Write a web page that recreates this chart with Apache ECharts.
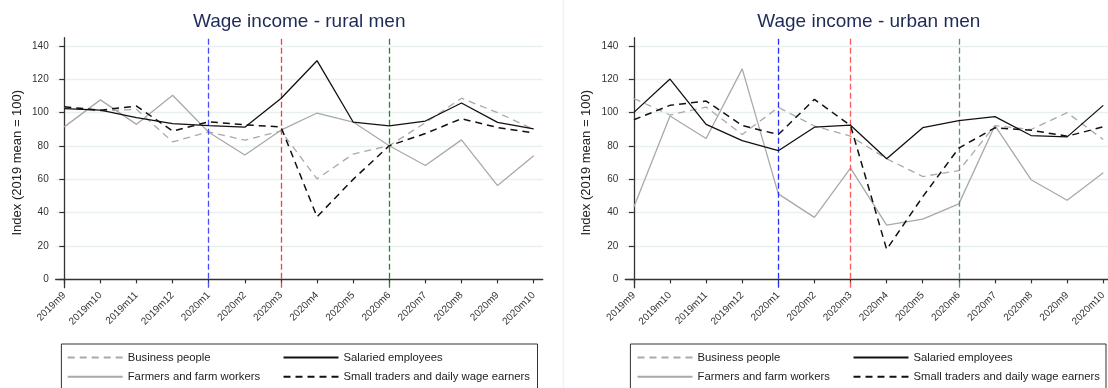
<!DOCTYPE html>
<html>
<head>
<meta charset="utf-8">
<title>Wage income index by occupation</title>
<script src="https://cdn.jsdelivr.net/npm/echarts@6/dist/echarts.min.js"></script>
<style>
  html, body { margin: 0; padding: 0; background: #ffffff; }
  #chart { width: 1108px; height: 388px; }
</style>
</head>
<body>
<div id="chart"></div>
<script>
// Survey months on the horizontal axis
const months = ['2019m9', '2019m10', '2019m11', '2019m12', '2020m1', '2020m2', '2020m3',
                '2020m4', '2020m5', '2020m6', '2020m7', '2020m8', '2020m9', '2020m10'];
const yTicks = [0, 20, 40, 60, 80, 100, 120, 140];
// Months marked with a vertical reference line
const eventMonths = ['2020m1', '2020m3', '2020m6'];

const groupNames = ['Business people', 'Farmers and farm workers', 'Salaried employees',
                    'Small traders and daily wage earners'];

// Rural men, index (2019 mean = 100)
const ruralBusiness = [103, 101, 102, 82.5, 88.5, 83.5, 89, 60.3, 75.2, 80.2, 94, 108.7, 100, 90];
const ruralFarmers  = [91.5, 107.7, 93, 110.5, 88.3, 74.6, 89.5, 99.8, 94.4, 80.2, 68.3, 83.7, 56.3, 74.2];
const ruralSalaried = [102.5, 101.5, 97, 93.5, 92.3, 91.3, 108.5, 131.2, 94.4, 92.1, 95, 105.8, 94.2, 90.3];
const ruralTraders  = [103.5, 101.5, 104, 89, 94.6, 92.7, 91.5, 37.5, 60, 80.2, 87.5, 96.4, 91.1, 87.9];

// Urban men, index (2019 mean = 100)
const urbanBusiness = [108.5, 98.6, 103.4, 86.9, 103.2, 92, 85.9, 72.4, 61.7, 65.3, 92.3, 89.9, 100, 83.9];
const urbanFarmers  = [43.4, 98, 84.5, 126.3, 51.3, 37.2, 66.7, 32.5, 36.2, 45.3, 92.3, 59.8, 47.5, 64];
const urbanSalaried = [100.2, 120.2, 93, 83.3, 77.2, 91.3, 92.5, 72.4, 91, 95.2, 97.6, 86.3, 85.5, 104.4];
const urbanTraders  = [95.8, 104.4, 107, 92.3, 86.9, 108, 92.3, 18, 49.6, 78.8, 90.9, 89.5, 85.9, 91.5];

const panels = [
  { title: 'Wage income - rural men', data: [ruralBusiness, ruralFarmers, ruralSalaried, ruralTraders] },
  { title: 'Wage income - urban men', data: [urbanBusiness, urbanFarmers, urbanSalaried, urbanTraders] }
];

// ---- layout ----
const Y_MIN = -5, Y_MAX = 145;
const X_MIN = -0.238, X_MAX = 13.25;
const PLOT_TOP = 37.7, PLOT_H = 250, PLOT_W = 487;
const PANEL_LEFT = [55.7, 625.3];
const PX_PER_UNIT = PLOT_H / (Y_MAX - Y_MIN);
const yPix = v => PLOT_TOP + (Y_MAX - v) * PX_PER_UNIT;

const FONT = '"Liberation Sans", Arial, sans-serif';
const AXIS_COLOR = '#333333';
const GRID_COLOR = '#e8f0f2';
const TITLE_COLOR = '#1e2b57';
const eventColors = [['#4a4aff', '#ff3b3b', '#228a22'], ['#2d2dff', '#ff5a5a', '#4ea44e']];

const seriesStyles = [
  { color: '#a9a9a9', type: [7, 5], width: 1.3 },
  { color: '#a9a9a9', type: 'solid', width: 1.3 },
  { color: '#111111', type: 'solid', width: 1.3 },
  { color: '#111111', type: [7, 5], width: 1.5 }
];

const grid = [], xAxis = [], yAxis = [], series = [], legend = [], graphic = [];

panels.forEach((p, pi) => {
  const left = PANEL_LEFT[pi];
  // main plotting grid
  grid.push({ left: left, top: PLOT_TOP, width: PLOT_W, height: PLOT_H,
              containLabel: false, outerBoundsMode: 'none' });
  // grid used only for the horizontal reference lines 20..140
  grid.push({ left: left, top: yPix(140), width: PLOT_W, height: yPix(20) - yPix(140),
              containLabel: false, outerBoundsMode: 'none' });

  const gMain = pi * 2, gLines = pi * 2 + 1;

  xAxis.push({
    gridIndex: gMain, type: 'value', min: X_MIN, max: X_MAX,
    axisLine: { show: true, lineStyle: { color: AXIS_COLOR, width: 1.3 } },
    axisTick: { show: true, length: 4, customValues: months.map((m, i) => i),
                lineStyle: { color: AXIS_COLOR, width: 1.2 } },
    axisLabel: { show: true, rotate: 45, margin: 6, fontSize: 10, fontFamily: FONT, color: '#333',
                 customValues: months.map((m, i) => i),
                 formatter: v => months[Math.round(v)] || '' },
    splitLine: { show: false }
  });
  xAxis.push({ gridIndex: gLines, type: 'value', min: 0, max: 1, show: false });

  yAxis.push({
    gridIndex: gMain, type: 'value', min: Y_MIN, max: Y_MAX,
    name: 'Index (2019 mean = 100)', nameLocation: 'middle', nameGap: 32, nameRotate: 90,
    nameTextStyle: { fontSize: 13, fontFamily: FONT, color: '#222' },
    axisLine: { show: true, lineStyle: { color: AXIS_COLOR, width: 1.3 } },
    axisTick: { show: true, length: 5, customValues: yTicks, lineStyle: { color: AXIS_COLOR, width: 1.2 } },
    axisLabel: { show: true, margin: 7, fontSize: 10, fontFamily: FONT, color: '#333', customValues: yTicks },
    splitLine: { show: false }
  });
  yAxis.push({
    gridIndex: gLines, type: 'value', min: 20, max: 140, interval: 20,
    axisLine: { show: false }, axisTick: { show: false }, axisLabel: { show: false },
    splitLine: { show: true, lineStyle: { color: GRID_COLOR, width: 1.4 } }
  });

  // occupation series, grey ones drawn first
  [0, 1, 2, 3].forEach(si => {
    const st = seriesStyles[si];
    const s = {
      name: groupNames[si], type: 'line',
      xAxisIndex: gMain, yAxisIndex: gMain,
      data: p.data[si].map((v, i) => [i, v]),
      symbol: 'none', smooth: false, silent: true, animation: false,
      z: 3 + si,
      lineStyle: { color: st.color, width: st.width, type: st.type },
      itemStyle: { color: st.color }
    };
    if (si === 2) {
      s.markLine = {
        silent: true, symbol: 'none', animation: false,
        label: { show: false },
        data: eventMonths.map((m, k) => ({
          xAxis: months.indexOf(m),
          lineStyle: { color: eventColors[pi][k], type: [6, 3], width: 1.3 }
        }))
      };
    }
    series.push(s);
  });

  // title
  graphic.push({
    type: 'text', x: left + PLOT_W / 2, y: 21.5,
    style: { text: p.title, fill: TITLE_COLOR, font: '19px ' + FONT, textAlign: 'center', textVerticalAlign: 'middle' }
  });
});

// legend: two columns under each panel
const LEGEND_BOX = [[61.4, 537.5], [630.4, 1106]];
const LEGEND_COLS = [[66.7, 282.5], [636.5, 852.5]];
[0, 1].forEach(pi => {
  const cols = [[groupNames[0], groupNames[1]], [groupNames[2], groupNames[3]]];
  cols.forEach((names, ci) => {
    legend.push({
      data: names, orient: 'vertical', left: LEGEND_COLS[pi][ci], top: 352,
      itemWidth: 55, itemHeight: 14, itemGap: 8, padding: 0,
      selectedMode: false,
      itemStyle: { opacity: 0, borderWidth: 0 },
      textStyle: { fontSize: 11.3, fontFamily: FONT, color: '#222' }
    });
  });
  graphic.push({
    type: 'rect', silent: true,
    shape: { x: LEGEND_BOX[pi][0], y: 344, width: LEGEND_BOX[pi][1] - LEGEND_BOX[pi][0], height: 48 },
    style: { fill: 'none', stroke: '#333', lineWidth: 1 }
  });
});

// faint frame of the right-hand panel
graphic.push({
  type: 'line', silent: true,
  shape: { x1: 563.5, y1: 0, x2: 563.5, y2: 388 },
  style: { stroke: '#eef3f6', lineWidth: 1.5 }
});

const chart = echarts.init(document.getElementById('chart'), null, { renderer: 'canvas' });
chart.setOption({
  backgroundColor: '#ffffff',
  animation: false,
  grid, xAxis, yAxis, series, legend, graphic
});
</script>
</body>
</html>
